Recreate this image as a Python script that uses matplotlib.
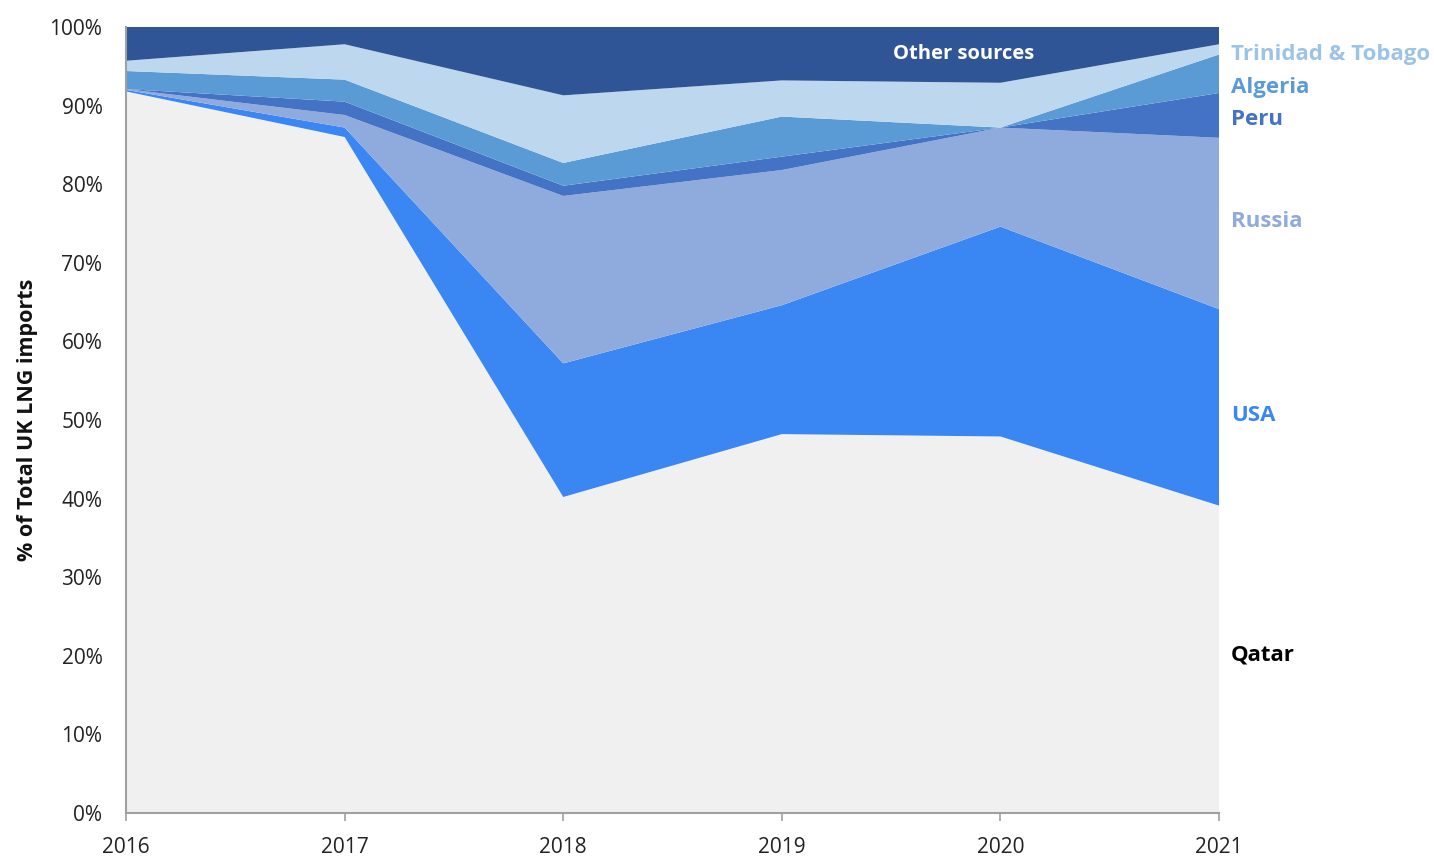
import numpy as np
import matplotlib.pyplot as plt

plt.rcParams['font.family'] = ['Open Sans', 'DejaVu Sans']

years = [2016, 2017, 2018, 2019, 2020, 2021]
qatar = [91.8, 86.0, 40.2, 48.2, 47.9, 39.1]
usa = [0.2, 1.2, 17.0, 16.4, 26.7, 25.0]
russia = [0.1, 1.6, 21.3, 17.2, 12.6, 21.8]
peru = [0.0, 1.7, 1.3, 1.7, 0.0, 5.7]
algeria = [2.3, 2.8, 2.9, 5.1, 0.0, 4.9]
trinidad = [1.3, 4.5, 8.6, 4.6, 5.7, 1.3]
other = [100 - sum(v) for v in zip(qatar, usa, russia, peru, algeria, trinidad)]

series = [qatar, usa, russia, peru, algeria, trinidad, other]
colors = ['#f0f0f0', '#3a86f2', '#8faadc', '#4472c4', '#5b9bd5', '#bdd7ee', '#2f5597']

# right-hand labels: (name, y position in %, text colour)
labels = [
    ('Trinidad & Tobago', 96.5, '#9dc3e6'),
    ('Algeria', 92.3, '#5b9bd5'),
    ('Peru', 88.2, '#4472c4'),
    ('Russia', 75.3, '#8faadc'),
    ('USA', 50.6, '#3a86f2'),
    ('Qatar', 20.1, '#000000'),
]

fig = plt.figure(figsize=(14.34, 8.59), dpi=100)
ax = fig.add_axes([0.0879, 0.0536, 0.7622, 0.915])

ax.stackplot(years, *series, colors=colors, linewidth=0)

ax.set_xlim(2016, 2021)
ax.set_ylim(0, 100)
ax.set_xticks(years)
ax.set_yticks(np.arange(0, 101, 10))
ax.set_yticklabels([f'{v}%' for v in range(0, 101, 10)])
ax.tick_params(axis='y', length=0, labelsize=15, colors='#222222', pad=17)
ax.tick_params(axis='x', length=6, width=1.2, color='#a0a0a0', labelsize=15,
               labelcolor='#222222', pad=11, direction='out')
for s in ['top', 'right']:
    ax.spines[s].set_visible(False)
for s in ['left', 'bottom']:
    ax.spines[s].set_color('#a0a0a0')
    ax.spines[s].set_linewidth(1.5)

ax.set_ylabel('% of Total UK LNG imports', fontsize=15.5, fontweight='bold',
              color='#111111', labelpad=8)

for name, y, c in labels:
    ax.text(1.011, y / 100, name, transform=ax.transAxes, fontsize=16,
            fontweight='bold', color=c, va='center', ha='left')

ax.text(2019.83, 96.5, 'Other sources', fontsize=14.5, fontweight='bold',
        color='white', ha='center', va='center')

fig.savefig('out.png', dpi=100)
